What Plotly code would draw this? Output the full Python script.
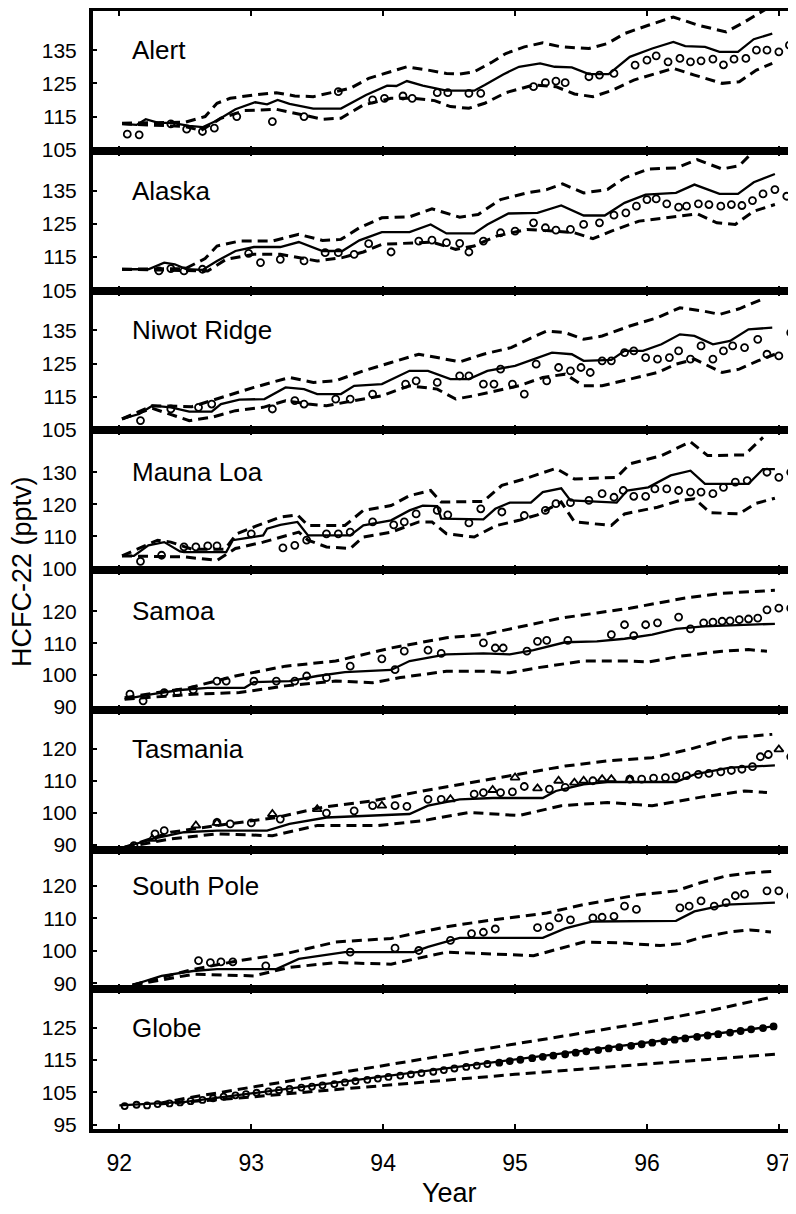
import plotly.graph_objects as go

# ---------------- DATA ----------------
year_ticks = [92, 93, 94, 95, 96, 97]

# Alert
alert_mod_x = [92.02, 92.13, 92.20, 92.29, 92.41, 92.53, 92.63, 92.74, 92.88, 93.03, 93.12, 93.20, 93.29, 93.47, 93.68, 93.87, 94.03, 94.10, 94.18, 94.30, 94.48, 94.69, 94.77, 94.91, 95.03, 95.19, 95.30, 95.43, 95.56, 95.71, 95.87, 96.04, 96.20, 96.29, 96.44, 96.55, 96.69, 96.81, 96.95]
alert_mod_y = [112.8, 112.5, 114.2, 113.2, 113.0, 112.2, 111.8, 113.8, 117.2, 119.3, 118.7, 120.0, 118.8, 117.4, 117.4, 121.5, 124.3, 124.2, 125.7, 124.3, 122.8, 122.8, 124.5, 127.7, 130.0, 131.0, 130.0, 129.8, 127.8, 127.8, 133.0, 135.5, 137.5, 136.2, 136.0, 134.5, 134.5, 138.3, 140.0]
alert_hi_x = [92.02, 92.50, 92.65, 92.74, 92.84, 93.02, 93.19, 93.33, 93.47, 93.75, 93.89, 94.06, 94.18, 94.34, 94.48, 94.58, 94.69, 94.83, 94.93, 95.07, 95.21, 95.35, 95.56, 95.70, 95.83, 96.01, 96.20, 96.39, 96.60, 96.74, 96.95]
alert_hi_y = [113.0, 113.3, 115.0, 119.0, 120.5, 121.5, 122.2, 121.2, 121.0, 123.5, 126.5, 128.5, 130.0, 129.0, 128.0, 127.8, 128.5, 131.5, 134.0, 136.0, 137.2, 136.0, 135.5, 137.0, 140.0, 142.5, 145.0, 142.5, 140.5, 143.5, 148.5]
alert_lo_x = [92.02, 92.50, 92.62, 92.77, 92.95, 93.19, 93.33, 93.54, 93.68, 93.85, 94.06, 94.23, 94.39, 94.51, 94.65, 94.77, 94.93, 95.14, 95.31, 95.45, 95.59, 95.73, 95.90, 96.08, 96.20, 96.36, 96.57, 96.70, 96.83, 96.95]
alert_lo_y = [112.8, 112.0, 110.8, 114.5, 116.8, 117.2, 116.0, 114.2, 114.5, 118.5, 120.5, 120.5, 119.8, 118.0, 117.5, 119.0, 122.2, 124.5, 124.0, 121.8, 121.0, 122.8, 126.0, 128.0, 129.5, 127.5, 125.0, 125.5, 129.0, 131.0]
alert_obs_x = [92.06, 92.15, 92.39, 92.51, 92.63, 92.72, 92.89, 93.16, 93.40, 93.66, 93.92, 94.01, 94.15, 94.22, 94.41, 94.49, 94.65, 94.74, 95.14, 95.23, 95.31, 95.38, 95.56, 95.64, 95.75, 95.91, 96.00, 96.07, 96.16, 96.25, 96.33, 96.41, 96.50, 96.58, 96.66, 96.75, 96.83, 96.91, 97.00, 97.08]
alert_obs_y = [109.7, 109.5, 112.8, 111.2, 110.5, 111.5, 115.0, 113.5, 115.0, 122.5, 120.0, 120.5, 121.2, 120.5, 122.2, 122.2, 122.0, 122.0, 124.0, 125.2, 125.7, 125.2, 127.0, 127.5, 128.0, 130.5, 132.0, 133.3, 131.5, 132.5, 131.5, 131.8, 132.3, 130.6, 132.3, 132.5, 135.0, 135.0, 134.5, 136.5]

# Alaska
alaska_mod_x = [92.02, 92.22, 92.34, 92.42, 92.51, 92.63, 92.74, 92.88, 93.02, 93.22, 93.36, 93.54, 93.69, 93.82, 93.99, 94.20, 94.36, 94.48, 94.69, 94.79, 94.95, 95.17, 95.35, 95.52, 95.68, 95.83, 95.99, 96.22, 96.36, 96.55, 96.69, 96.81, 96.97]
alaska_mod_y = [111.3, 111.3, 113.3, 112.8, 111.3, 111.1, 113.8, 116.8, 118.0, 118.0, 119.5, 116.8, 116.8, 120.0, 122.5, 122.5, 124.8, 122.1, 122.1, 124.8, 128.1, 128.3, 130.5, 127.5, 127.5, 131.3, 133.8, 134.3, 136.8, 134.0, 134.0, 137.5, 140.0]
alaska_hi_x = [92.02, 92.50, 92.65, 92.74, 92.91, 93.16, 93.36, 93.54, 93.68, 93.82, 93.99, 94.20, 94.37, 94.58, 94.72, 94.89, 95.09, 95.24, 95.36, 95.52, 95.70, 95.83, 96.01, 96.22, 96.38, 96.57, 96.70, 96.80]
alaska_hi_y = [111.3, 111.5, 114.5, 118.3, 119.8, 119.8, 121.8, 120.0, 120.3, 123.8, 126.8, 127.1, 129.5, 127.0, 127.8, 132.3, 134.3, 135.3, 137.0, 134.3, 135.3, 138.8, 141.5, 141.8, 144.3, 141.5, 142.5, 146.5]
alaska_lo_x = [92.02, 92.50, 92.67, 92.81, 93.02, 93.22, 93.50, 93.69, 93.85, 93.99, 94.20, 94.37, 94.55, 94.69, 94.86, 95.09, 95.30, 95.45, 95.59, 95.73, 95.94, 96.15, 96.38, 96.53, 96.67, 96.81, 96.97]
alaska_lo_y = [111.3, 110.8, 110.8, 114.3, 115.8, 115.8, 113.8, 114.8, 116.5, 118.8, 119.3, 119.5, 117.3, 118.3, 121.3, 123.3, 122.8, 122.3, 120.5, 122.8, 125.8, 126.8, 128.0, 125.3, 124.8, 128.8, 130.8]
alaska_obs_x = [92.30, 92.39, 92.49, 92.63, 92.98, 93.07, 93.22, 93.40, 93.56, 93.66, 93.78, 93.89, 94.06, 94.27, 94.37, 94.48, 94.58, 94.65, 94.76, 94.89, 95.00, 95.14, 95.23, 95.31, 95.42, 95.52, 95.64, 95.75, 95.84, 95.92, 96.00, 96.07, 96.15, 96.24, 96.30, 96.39, 96.47, 96.56, 96.64, 96.72, 96.80, 96.88, 96.97, 97.06]
alaska_obs_y = [110.8, 111.5, 110.8, 111.3, 116.1, 113.3, 114.3, 113.8, 116.3, 116.3, 115.8, 119.0, 116.5, 119.8, 120.1, 119.3, 119.1, 116.5, 119.8, 122.3, 122.8, 125.3, 123.8, 123.1, 123.3, 124.8, 125.3, 127.6, 128.3, 130.3, 132.3, 132.5, 131.0, 130.0, 130.3, 131.0, 130.8, 130.3, 130.8, 130.5, 132.0, 134.0, 135.3, 133.3]

# Niwot Ridge
niwot_mod_x = [92.02, 92.15, 92.25, 92.39, 92.53, 92.70, 92.77, 92.91, 93.10, 93.26, 93.40, 93.50, 93.68, 93.78, 93.99, 94.20, 94.34, 94.51, 94.65, 94.79, 95.00, 95.17, 95.28, 95.43, 95.52, 95.73, 95.83, 95.97, 96.11, 96.25, 96.36, 96.50, 96.63, 96.77, 96.95]
niwot_mod_y = [108.3, 109.8, 112.3, 111.8, 110.5, 110.5, 112.8, 114.1, 114.3, 117.8, 117.3, 115.8, 115.8, 118.3, 118.8, 122.8, 122.8, 120.3, 120.3, 122.8, 124.3, 126.8, 128.3, 127.8, 125.8, 126.1, 128.8, 128.8, 130.8, 133.8, 133.3, 130.8, 131.8, 135.3, 135.8]
niwot_hi_x = [92.02, 92.25, 92.55, 92.81, 93.02, 93.29, 93.47, 93.64, 93.85, 94.06, 94.27, 94.41, 94.58, 94.76, 94.97, 95.10, 95.24, 95.38, 95.52, 95.66, 95.87, 96.08, 96.25, 96.43, 96.55, 96.70, 96.88]
niwot_hi_y = [108.3, 112.3, 112.0, 115.3, 117.8, 120.8, 119.3, 119.8, 122.8, 125.3, 127.8, 126.8, 125.5, 127.8, 129.8, 132.3, 134.8, 134.3, 132.3, 133.3, 136.3, 138.8, 141.8, 140.8, 139.8, 141.5, 144.5]
niwot_lo_x = [92.02, 92.25, 92.53, 92.70, 92.88, 93.09, 93.26, 93.43, 93.57, 93.78, 93.99, 94.20, 94.41, 94.55, 94.69, 94.86, 95.03, 95.21, 95.38, 95.52, 95.66, 95.87, 96.08, 96.22, 96.36, 96.57, 96.70, 96.84, 96.97]
niwot_lo_y = [108.3, 111.5, 107.8, 108.8, 110.8, 111.8, 113.8, 112.8, 112.3, 113.8, 115.3, 118.3, 117.3, 114.3, 115.3, 116.8, 118.3, 120.8, 121.8, 118.3, 118.3, 120.3, 122.3, 124.8, 126.3, 122.3, 123.3, 125.8, 127.8]
niwot_obs_x = [92.16, 92.39, 92.60, 92.70, 93.16, 93.33, 93.40, 93.64, 93.75, 93.92, 94.17, 94.25, 94.41, 94.58, 94.65, 94.76, 94.84, 94.89, 94.98, 95.07, 95.16, 95.24, 95.33, 95.42, 95.50, 95.57, 95.66, 95.73, 95.83, 95.90, 95.99, 96.08, 96.17, 96.24, 96.33, 96.41, 96.50, 96.58, 96.65, 96.74, 96.84, 96.91, 97.00, 97.09]
niwot_obs_y = [107.8, 111.3, 111.8, 112.8, 111.3, 113.8, 112.8, 114.3, 114.3, 115.8, 118.8, 119.8, 119.3, 121.3, 121.3, 118.8, 118.8, 123.3, 118.8, 115.8, 124.8, 119.8, 123.8, 122.8, 123.8, 122.3, 125.8, 125.8, 128.3, 128.8, 126.8, 126.3, 126.8, 128.8, 126.3, 130.3, 126.3, 128.8, 130.3, 129.8, 132.3, 127.8, 127.3, 134.3]

# Mauna Loa
mlo_mod_x = [92.02, 92.11, 92.22, 92.34, 92.46, 92.49, 92.74, 92.81, 92.86, 93.09, 93.12, 93.22, 93.35, 93.43, 93.75, 93.85, 94.06, 94.20, 94.30, 94.41, 94.44, 94.76, 94.85, 94.96, 95.12, 95.21, 95.35, 95.42, 95.77, 95.85, 96.01, 96.18, 96.33, 96.44, 96.77, 96.88, 96.97]
mlo_mod_y = [103.9, 103.9, 107.2, 108.2, 105.3, 105.1, 105.1, 105.1, 108.8, 110.3, 112.4, 113.6, 114.5, 110.3, 110.3, 113.4, 115.0, 118.1, 119.6, 119.4, 115.5, 115.3, 118.6, 120.5, 120.5, 123.8, 125.0, 121.2, 120.5, 124.3, 125.3, 129.0, 130.5, 126.4, 126.4, 131.0, 131.0]
mlo_hi_x = [92.02, 92.29, 92.39, 92.55, 92.80, 92.89, 93.05, 93.22, 93.35, 93.43, 93.71, 93.85, 94.06, 94.20, 94.36, 94.44, 94.76, 94.90, 95.07, 95.19, 95.31, 95.45, 95.77, 95.87, 96.11, 96.33, 96.46, 96.74, 96.88]
mlo_hi_y = [103.9, 108.8, 108.2, 106.0, 106.0, 110.8, 113.4, 116.0, 116.7, 113.4, 113.4, 118.1, 119.6, 122.7, 124.3, 120.7, 120.9, 125.9, 127.9, 129.5, 131.2, 127.9, 128.4, 132.6, 135.2, 139.5, 135.2, 135.4, 140.9]
mlo_lo_x = [92.02, 92.49, 92.74, 92.88, 93.09, 93.22, 93.36, 93.43, 93.57, 93.75, 93.85, 94.06, 94.27, 94.37, 94.48, 94.69, 94.86, 95.03, 95.17, 95.35, 95.45, 95.73, 95.83, 96.08, 96.25, 96.36, 96.48, 96.70, 96.82, 96.97]
mlo_lo_y = [103.9, 103.6, 102.5, 106.2, 108.2, 109.8, 111.3, 108.8, 106.7, 106.2, 109.8, 111.3, 114.5, 114.5, 110.8, 109.8, 113.4, 115.0, 116.7, 120.7, 114.5, 113.4, 117.0, 119.1, 121.2, 121.7, 117.4, 117.0, 120.2, 121.9]
mlo_obs_x = [92.16, 92.32, 92.49, 92.58, 92.67, 92.74, 93.00, 93.24, 93.33, 93.42, 93.57, 93.66, 93.75, 93.92, 94.08, 94.16, 94.25, 94.41, 94.49, 94.65, 94.74, 94.90, 95.07, 95.23, 95.31, 95.42, 95.56, 95.66, 95.75, 95.82, 95.90, 95.99, 96.06, 96.15, 96.24, 96.33, 96.41, 96.50, 96.58, 96.67, 96.76, 96.91, 97.00, 97.09]
mlo_obs_y = [102.2, 104.1, 106.7, 106.7, 107.0, 107.0, 110.8, 106.4, 107.2, 108.8, 110.8, 110.8, 111.3, 114.5, 113.6, 114.5, 117.0, 118.1, 116.7, 114.2, 118.6, 117.6, 116.5, 118.1, 120.2, 120.5, 121.2, 123.3, 122.2, 124.3, 122.5, 122.5, 124.8, 124.8, 124.3, 123.8, 123.8, 123.3, 125.3, 126.9, 127.4, 130.0, 128.4, 130.0]

# Samoa
smo_mod_x = [92.04, 92.25, 92.46, 92.67, 92.95, 93.02, 93.29, 93.50, 93.71, 94.06, 94.20, 94.48, 94.76, 94.96, 95.14, 95.38, 95.62, 95.83, 96.04, 96.22, 96.43, 96.70, 96.97]
smo_mod_y = [92.4, 94.0, 95.3, 96.0, 96.0, 97.8, 98.1, 99.7, 100.9, 101.6, 104.4, 106.5, 106.8, 106.5, 107.8, 110.3, 110.6, 111.4, 112.7, 114.5, 115.3, 115.8, 116.1]
smo_hi_x = [92.04, 92.53, 92.88, 93.26, 93.64, 94.06, 94.48, 94.76, 95.00, 95.35, 95.62, 95.87, 96.08, 96.29, 96.57, 96.81, 96.97]
smo_hi_y = [92.9, 96.0, 99.7, 102.8, 104.4, 108.5, 111.7, 112.7, 114.8, 117.9, 119.5, 121.0, 122.6, 124.2, 125.7, 126.3, 126.6]
smo_lo_x = [92.04, 92.56, 92.91, 93.26, 93.64, 93.92, 94.13, 94.48, 94.76, 94.96, 95.17, 95.52, 95.87, 96.01, 96.25, 96.57, 96.77, 96.91]
smo_lo_y = [92.4, 94.0, 94.5, 96.6, 98.1, 97.6, 99.2, 101.2, 101.2, 100.7, 102.3, 104.4, 104.4, 104.1, 105.9, 107.5, 108.0, 107.5]
smo_obs_x = [92.08, 92.18, 92.34, 92.44, 92.56, 92.74, 92.81, 93.02, 93.19, 93.33, 93.42, 93.57, 93.75, 93.99, 94.09, 94.16, 94.34, 94.44, 94.76, 94.85, 94.91, 95.09, 95.17, 95.24, 95.40, 95.73, 95.83, 95.90, 95.99, 96.08, 96.24, 96.33, 96.43, 96.50, 96.57, 96.63, 96.70, 96.77, 96.84, 96.91, 97.00, 97.09]
smo_obs_y = [94.0, 91.9, 94.5, 94.5, 95.3, 98.1, 98.1, 98.1, 98.1, 98.1, 99.7, 99.2, 102.8, 105.1, 101.7, 107.5, 107.8, 106.8, 110.1, 108.5, 108.5, 107.5, 110.6, 110.9, 110.9, 112.7, 115.8, 112.4, 115.8, 116.4, 118.2, 114.5, 116.4, 116.6, 116.9, 117.0, 117.4, 117.6, 117.9, 120.5, 121.0, 121.0]

# Tasmania
tas_mod_x = [92.04, 92.25, 92.49, 92.74, 93.12, 93.29, 93.57, 94.20, 94.34, 94.58, 94.83, 95.21, 95.31, 95.52, 95.70, 96.22, 96.36, 96.63, 96.97]
tas_mod_y = [89.2, 91.8, 93.9, 94.4, 94.4, 96.5, 98.5, 99.6, 102.2, 104.2, 104.6, 104.6, 106.8, 108.9, 109.6, 109.6, 112.0, 114.1, 114.8]
tas_hi_x = [92.04, 92.39, 92.74, 93.19, 93.54, 93.92, 94.30, 94.65, 95.03, 95.38, 95.70, 96.04, 96.32, 96.63, 96.95]
tas_hi_y = [89.2, 93.9, 96.0, 98.5, 101.7, 103.7, 106.8, 109.4, 112.0, 114.6, 116.2, 117.2, 119.8, 123.4, 124.5]
tas_lo_x = [92.04, 92.39, 92.74, 93.16, 93.50, 93.96, 94.30, 94.65, 95.03, 95.35, 95.70, 96.04, 96.40, 96.74, 96.91]
tas_lo_y = [89.2, 91.8, 93.4, 92.8, 96.0, 96.0, 97.5, 100.1, 99.1, 102.2, 103.2, 102.2, 104.8, 106.8, 106.3]
tas_obs_x = [92.11, 92.27, 92.34, 92.74, 92.84, 93.00, 93.22, 93.57, 93.78, 93.92, 94.09, 94.18, 94.34, 94.44, 94.69, 94.76, 94.89, 94.98, 95.07, 95.26, 95.38, 95.59, 95.87, 95.96, 96.05, 96.14, 96.22, 96.30, 96.39, 96.47, 96.56, 96.64, 96.72, 96.80, 96.86, 96.92, 97.09]
tas_obs_y = [89.7, 93.4, 94.4, 97.0, 96.5, 96.8, 98.0, 99.9, 100.6, 102.2, 102.2, 102.0, 104.2, 104.2, 105.8, 106.3, 106.3, 106.5, 108.2, 107.4, 107.9, 110.0, 110.5, 110.5, 110.8, 111.0, 111.3, 111.6, 112.0, 112.3, 112.8, 113.2, 113.6, 114.4, 117.5, 118.2, 117.5]
tas_tri_x = [92.25, 92.58, 92.74, 93.16, 93.50, 93.99, 94.51, 94.83, 95.00, 95.17, 95.33, 95.45, 95.52, 95.66, 95.73, 95.87, 97.00]
tas_tri_y = [91.8, 96.0, 96.8, 99.6, 101.1, 102.2, 104.2, 107.1, 111.0, 107.6, 110.0, 109.4, 110.0, 110.5, 110.5, 110.3, 119.8]

# South Pole
spo_mod_x = [92.10, 92.32, 92.56, 92.74, 93.19, 93.36, 93.71, 94.23, 94.34, 94.58, 95.21, 95.38, 95.59, 96.22, 96.36, 96.60, 96.97]
spo_mod_y = [89.5, 92.3, 93.8, 94.4, 94.4, 97.5, 99.6, 99.6, 101.2, 104.0, 104.0, 106.9, 109.0, 109.2, 112.1, 114.2, 114.8]
spo_hi_x = [92.10, 92.56, 92.91, 93.26, 93.64, 94.06, 94.48, 94.83, 95.24, 95.52, 95.94, 96.22, 96.40, 96.60, 96.80, 96.97]
spo_hi_y = [89.5, 94.3, 97.0, 99.1, 102.7, 103.8, 107.4, 109.5, 111.6, 114.2, 117.2, 118.4, 120.8, 123.0, 124.0, 124.4]
spo_lo_x = [92.10, 92.56, 93.02, 93.29, 93.64, 94.06, 94.48, 95.14, 95.52, 95.81, 96.10, 96.25, 96.42, 96.63, 96.78, 96.94]
spo_lo_y = [89.5, 92.8, 92.3, 94.9, 96.4, 95.9, 99.6, 98.5, 102.7, 102.4, 101.6, 102.2, 104.2, 105.8, 106.4, 105.8]
spo_obs_x = [92.60, 92.69, 92.77, 92.86, 93.11, 93.75, 94.09, 94.27, 94.51, 94.67, 94.76, 94.85, 95.17, 95.26, 95.33, 95.42, 95.59, 95.66, 95.75, 95.83, 95.92, 96.25, 96.32, 96.41, 96.51, 96.60, 96.67, 96.74, 96.91, 97.00, 97.09]
spo_obs_y = [97.0, 96.4, 96.6, 96.6, 95.4, 99.6, 100.8, 100.1, 103.2, 105.3, 105.7, 106.7, 107.1, 107.4, 110.1, 109.5, 110.1, 110.3, 110.6, 113.7, 112.7, 113.2, 113.7, 115.3, 113.7, 114.8, 116.9, 117.4, 118.4, 118.4, 116.9]

# Globe
globe_mod_x = [92.00, 92.50, 93.00, 93.50, 94.00, 94.50, 95.00, 95.50, 96.00, 96.50, 96.97]
globe_mod_y = [101.0, 102.1, 104.7, 107.3, 109.9, 112.5, 115.1, 117.7, 120.3, 122.9, 125.5]
globe_hi_x = [92.30, 92.50, 93.00, 93.50, 94.00, 94.50, 95.00, 95.50, 96.00, 96.50, 96.95]
globe_hi_y = [101.6, 103.2, 106.6, 110.0, 113.4, 116.7, 120.0, 123.3, 126.7, 130.5, 134.5]
globe_lo_x = [92.30, 92.50, 93.00, 93.50, 94.00, 94.50, 95.00, 95.50, 96.00, 96.50, 96.97]
globe_lo_y = [101.4, 102.0, 103.6, 105.4, 107.2, 109.0, 110.6, 112.2, 113.8, 115.4, 116.8]
globe_obs_x = [92.04, 92.13, 92.21, 92.29, 92.38, 92.46, 92.54, 92.63, 92.71, 92.79, 92.88, 92.96,
               93.04, 93.13, 93.21, 93.29, 93.38, 93.46, 93.54, 93.63, 93.71, 93.79, 93.88, 93.96,
               94.04, 94.13, 94.21, 94.29, 94.38, 94.46, 94.54, 94.63, 94.71, 94.79, 94.88, 94.96,
               95.04, 95.13, 95.21, 95.29, 95.38, 95.46, 95.54, 95.63, 95.71, 95.79, 95.88, 95.96,
               96.04, 96.13, 96.21, 96.29, 96.38, 96.46, 96.54, 96.63, 96.71, 96.79, 96.88, 96.96]
globe_obs_y = [100.8, 101.2, 101.0, 101.4, 101.6, 101.9, 102.3, 102.7, 103.2, 103.7, 104.1, 104.5,
               104.9, 105.3, 105.7, 106.1, 106.5, 106.8, 107.2, 107.6, 108.1, 108.5, 108.9, 109.3,
               109.8, 110.2, 110.6, 111.0, 111.4, 111.9, 112.4, 112.9, 113.3, 113.8, 114.2, 114.7,
               115.1, 115.6, 116.0, 116.4, 116.8, 117.3, 117.7, 118.1, 118.6, 119.0, 119.4, 119.9,
               120.4, 120.8, 121.3, 121.7, 122.2, 122.6, 123.0, 123.5, 124.0, 124.5, 124.9, 125.4]

station_names = ["Alert", "Alaska", "Niwot Ridge", "Mauna Loa", "Samoa", "Tasmania", "South Pole", "Globe"]
y_ranges = [[104.7, 146.8], [104.9, 147.0], [104.9, 147.0], [99.5, 143.1],
            [89.1, 133.0], [88.5, 132.2], [88.2, 131.1], [93.7, 136.9]]
y_ticks = [[105, 115, 125, 135], [105, 115, 125, 135], [105, 115, 125, 135], [100, 110, 120, 130],
           [90, 100, 110, 120], [90, 100, 110, 120], [90, 100, 110, 120], [95, 105, 115, 125]]

stations = [
    (alert_mod_x, alert_mod_y, alert_hi_x, alert_hi_y, alert_lo_x, alert_lo_y, alert_obs_x, alert_obs_y),
    (alaska_mod_x, alaska_mod_y, alaska_hi_x, alaska_hi_y, alaska_lo_x, alaska_lo_y, alaska_obs_x, alaska_obs_y),
    (niwot_mod_x, niwot_mod_y, niwot_hi_x, niwot_hi_y, niwot_lo_x, niwot_lo_y, niwot_obs_x, niwot_obs_y),
    (mlo_mod_x, mlo_mod_y, mlo_hi_x, mlo_hi_y, mlo_lo_x, mlo_lo_y, mlo_obs_x, mlo_obs_y),
    (smo_mod_x, smo_mod_y, smo_hi_x, smo_hi_y, smo_lo_x, smo_lo_y, smo_obs_x, smo_obs_y),
    (tas_mod_x, tas_mod_y, tas_hi_x, tas_hi_y, tas_lo_x, tas_lo_y, tas_obs_x, tas_obs_y),
    (spo_mod_x, spo_mod_y, spo_hi_x, spo_hi_y, spo_lo_x, spo_lo_y, spo_obs_x, spo_obs_y),
    (globe_mod_x, globe_mod_y, globe_hi_x, globe_hi_y, globe_lo_x, globe_lo_y, globe_obs_x, globe_obs_y),
]

# ---------------- FIGURE ----------------
# The page body has a default 8px margin, so the figure is drawn 8px smaller
# and all positions below are expressed in figure pixels (window - 8).
FONT = "Liberation Sans, Arial, Helvetica, sans-serif"
W, H = 788, 1206
ML, MT, MB = 85, 3, 85
n = len(station_names)
frac = 1.0 / n

fig = go.Figure()
solid = dict(color="black", width=2.3)
dashed = dict(color="black", width=3, dash="10px,6px")
circ = dict(symbol="circle-open", size=7, color="black", line=dict(width=1.8, color="black"))

for i, (name, st) in enumerate(zip(station_names, stations)):
    k = "" if i == 0 else str(i + 1)
    xa, ya = "x" + k, "y" + k
    mx, my, hx, hy, lx, ly, ox, oy = st
    fig.add_trace(go.Scatter(x=hx, y=hy, mode="lines", line=dashed, xaxis=xa, yaxis=ya, hoverinfo="skip"))
    fig.add_trace(go.Scatter(x=lx, y=ly, mode="lines", line=dashed, xaxis=xa, yaxis=ya, hoverinfo="skip"))
    fig.add_trace(go.Scatter(x=mx, y=my, mode="lines", line=solid, xaxis=xa, yaxis=ya))
    if name == "Globe":
        syms = ["circle-open" if v < 94.8 else "circle" for v in ox]
        fig.add_trace(go.Scatter(x=ox, y=oy, mode="markers", xaxis=xa, yaxis=ya,
                                 marker=dict(symbol=syms, size=6, color="black",
                                             line=dict(width=1.8, color="black"))))
    else:
        fig.add_trace(go.Scatter(x=ox, y=oy, mode="markers", marker=circ, xaxis=xa, yaxis=ya))
    if name == "Tasmania":
        fig.add_trace(go.Scatter(x=tas_tri_x, y=tas_tri_y, mode="markers", xaxis=xa, yaxis=ya,
                                 marker=dict(symbol="triangle-up-open", size=8, color="black",
                                             line=dict(width=1.8, color="black"))))

    top = 1 - i * frac
    bot = 1 - (i + 1) * frac
    last = (i == n - 1)
    fig.layout["xaxis" + k] = dict(
        domain=[0, 1], anchor=ya, range=[91.80, 97.13], automargin=False,
        tickvals=year_ticks, ticktext=[str(v) for v in year_ticks],
        showticklabels=last, ticks="inside", ticklen=5, tickwidth=2, tickcolor="black",
        showline=True, linewidth=4, linecolor="black", mirror="allticks",
        showgrid=False, zeroline=False,
        tickfont=dict(family=FONT, size=23, color="black"),
        ticklabelstandoff=10,
        matches=None if i == 0 else "x",
    )
    fig.layout["yaxis" + k] = dict(
        domain=[bot, top], anchor=xa, range=y_ranges[i], automargin=False,
        tickvals=y_ticks[i], ticks="inside", ticklen=4, tickwidth=2, tickcolor="black",
        showline=True, linewidth=4, linecolor="black", mirror=False,
        showgrid=False, zeroline=False,
        tickfont=dict(family=FONT, size=21, color="black"),
        ticklabelstandoff=8,
    )
    fig.add_annotation(text=name, x=92.08, y=y_ticks[i][-1], xref=xa, yref=ya,
                       xanchor="left", yanchor="middle", showarrow=False,
                       font=dict(family=FONT, size=26, color="black"))

plot_w = W - ML
plot_h = H - MT - MB
fig.add_annotation(text="Year", x=(441 - ML) / plot_w, y=(H - MB - 1185) / plot_h,
                   xref="paper", yref="paper", xanchor="center", yanchor="middle",
                   showarrow=False, font=dict(family=FONT, size=27, color="black"))
fig.add_annotation(text="HCFC-22 (pptv)", x=(14 - ML) / plot_w, y=(H - MB - 564) / plot_h,
                   xref="paper", yref="paper", xanchor="center", yanchor="middle",
                   textangle=-90, showarrow=False, font=dict(family=FONT, size=27, color="black"))

fig.update_layout(
    width=W, height=H, showlegend=False,
    margin=dict(l=ML, r=0, t=MT, b=MB, pad=0, autoexpand=False),
    paper_bgcolor="white", plot_bgcolor="white",
)

fig.write_html("out.html")
